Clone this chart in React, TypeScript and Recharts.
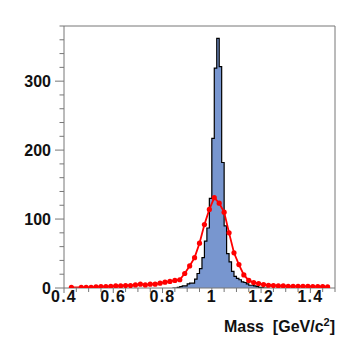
import React from 'react';
import { ComposedChart, Area, Line, XAxis, YAxis, ReferenceLine, Label } from 'recharts';

// histogram: 0.01 GeV bins starting at 0.84
const binStart = 0.84;
const binWidth = 0.01;
const binCounts = [
    0, 0, 1, 2, 3, 3, 6, 7, 7, 13, 21, 28, 44, 68, 87, 130, 217, 319, 362, 321,
    182, 90, 50, 38, 24, 17, 14, 12, 9, 8, 6, 4, 4, 3, 2, 1, 1, 0, 0,
];

// red curve (points every 0.02)
const fitMass = [
    0.43, 0.47, 0.49, 0.51, 0.53, 0.55, 0.57, 0.59, 0.61, 0.63, 0.65, 0.67, 0.69,
    0.71, 0.73, 0.75, 0.77, 0.79, 0.81, 0.83, 0.85, 0.87, 0.89, 0.91, 0.93, 0.95,
    0.97, 0.99, 1.01, 1.03, 1.05, 1.07, 1.09, 1.11, 1.13, 1.15, 1.17, 1.19, 1.21,
    1.23, 1.25, 1.27, 1.29, 1.31, 1.33, 1.35, 1.37, 1.39, 1.41, 1.43, 1.45, 1.47,
];
const fitCounts = [
    1, 1, 1, 1, 1.5, 2, 2, 2.5, 3, 3, 3.5, 3.5, 4.5,
    5.5, 4.5, 5.5, 5.5, 7, 8.5, 9.5, 11, 12, 21, 32, 44, 65,
    92, 114, 131, 123, 110, 80, 51, 34, 19, 11, 8, 6.5, 5,
    4, 3.5, 3, 3, 2.5, 2.5, 2.5, 2.5, 2.5, 2, 2, 2, 1.5,
];

const xTicks = [0.4, 0.45, 0.5, 0.55, 0.6, 0.65, 0.7, 0.75, 0.8, 0.85, 0.9, 0.95, 1, 1.05, 1.1, 1.15, 1.2, 1.25, 1.3, 1.35, 1.4, 1.45, 1.5];
const xLabels = [0.4, 0.6, 0.8, 1, 1.2, 1.4];
const yTicks = [0, 20, 40, 60, 80, 100, 120, 140, 160, 180, 200, 220, 240, 260, 280, 300, 320, 340, 360, 380];
const yLabels = [0, 100, 200, 300];

const histData = binCounts.map((h, i) => ({ x: +(binStart + i * binWidth).toFixed(2), h }));
// closing edge for the step outline
histData.push({ x: +(binStart + binCounts.length * binWidth).toFixed(2), h: 0 });

const fitData = fitMass.map((x, i) => ({ x, y: fitCounts[i] }));

const AXIS = '#777';
const FONT = '"Liberation Sans", Arial, Helvetica, sans-serif';

const XTick = (props: any) => {
    const { x, y, payload } = props;
    const major = xLabels.includes(payload.value);
    return (
        <g>
            <line x1={x} y1={y} x2={x} y2={y + (major ? 5 : 4)} stroke={AXIS} strokeWidth={1} />
            {major && (
                <text x={x} y={y + 14} textAnchor="middle" fontFamily={FONT} fontWeight="bold" fontSize={16} letterSpacing={1.2} fill="#111">
                    {String(payload.value)}
                </text>
            )}
        </g>
    );
};

const YTick = (props: any) => {
    const { x, y, payload } = props;
    const major = yLabels.includes(payload.value);
    return (
        <g>
            <line x1={x} y1={y} x2={x - (major ? 9 : 4.5)} y2={y} stroke={AXIS} strokeWidth={1} />
            {major && (
                <text x={x - 13} y={y} dy="0.36em" textAnchor="end" fontFamily={FONT} fontWeight="bold" fontSize={16} fill="#111">
                    {String(payload.value)}
                </text>
            )}
        </g>
    );
};

const MassTitle = () => (
    <text x={335} y={332} textAnchor="end" fontFamily={FONT} fontWeight="bold" fontSize={16} fill="#111" style={{ whiteSpace: 'pre' }}>
        {'Mass  [GeV/c'}
        <tspan dy={-6} fontSize={11}>2</tspan>
        <tspan dy={6}>]</tspan>
    </text>
);

const App: React.FC = () => {
    return (
        <div style={{ position: 'absolute', left: 0, top: 0, width: 357, height: 343, background: '#fff' }}>
            <ComposedChart width={357} height={343} data={histData} margin={{ top: 26, right: 22, bottom: 0, left: 0 }}>
                <XAxis
                    type="number"
                    dataKey="x"
                    domain={[0.4, 1.5]}
                    ticks={xTicks}
                    interval={0}
                    allowDataOverflow
                    height={55}
                    tickSize={0}
                    tickMargin={0}
                    tickLine={false}
                    stroke={AXIS}
                    tick={(p: any) => <XTick {...p} />}
                >
                    <Label content={() => <MassTitle />} />
                </XAxis>
                <YAxis
                    type="number"
                    domain={[0, 380]}
                    ticks={yTicks}
                    interval={0}
                    allowDataOverflow
                    width={64}
                    tickSize={0}
                    tickMargin={0}
                    tickLine={false}
                    stroke={AXIS}
                    tick={(p: any) => <YTick {...p} />}
                />
                <ReferenceLine y={380} stroke={AXIS} />
                <ReferenceLine x={1.5} stroke={AXIS} />
                <Area
                    type="stepAfter"
                    dataKey="h"
                    stroke="#000"
                    strokeWidth={1.2}
                    fill="#7896cf"
                    fillOpacity={1}
                    dot={false}
                    activeDot={false}
                    isAnimationActive={false}
                />
                <Line
                    data={fitData}
                    dataKey="y"
                    type="linear"
                    stroke="#ff0000"
                    strokeWidth={1.8}
                    dot={{ r: 2.6, fill: '#ff0000', stroke: 'none' }}
                    activeDot={false}
                    isAnimationActive={false}
                />
            </ComposedChart>
        </div>
    );
};

export default App;
